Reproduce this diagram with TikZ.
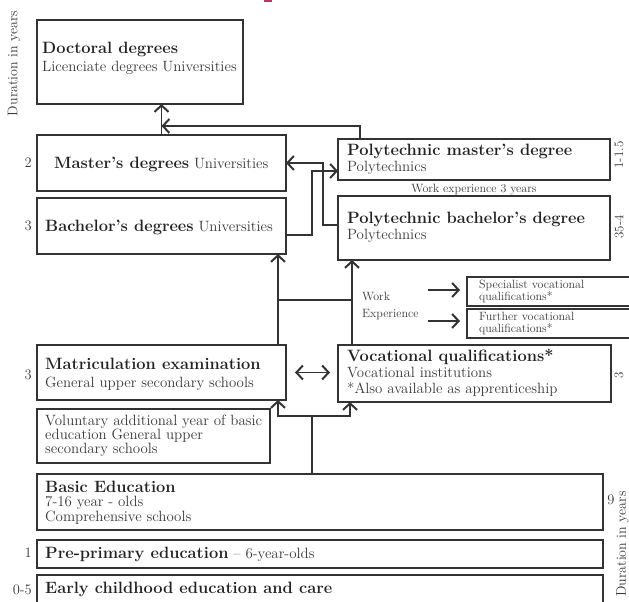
\documentclass[tikz,border=0pt]{standalone}
\usetikzlibrary{arrows.meta}
\definecolor{lc}{HTML}{333333}
\definecolor{tb}{HTML}{222222}
\definecolor{tn}{HTML}{383838}
\definecolor{mg}{HTML}{C0306A}
\newcommand\mybold[1]{{\color{tb}\fontsize{16.4}{18}\selectfont\bfseries #1}}
\begin{document}
\begin{tikzpicture}[x=1pt,y=-1pt,
  box/.style={draw=lc, line width=1.2pt, rectangle, inner sep=0pt, outer sep=0pt, anchor=north west},
  ln/.style={draw=lc, line width=1.3pt},
  tip/.tip={Straight Barb[length=6.5pt,width=14pt,line width=2pt]},
  arr/.style={ln, -tip},
  arrb/.style={ln, tip-tip},
  tb/.style={anchor=base west, inner sep=0pt, text=tb, font=\fontsize{16.4}{18}\selectfont\bfseries},
  tn/.style={anchor=base west, inner sep=0pt, text=tn, font=\fontsize{14.9}{16}\selectfont},
  ts/.style={anchor=base west, inner sep=0pt, text=tn, font=\fontsize{12}{13}\selectfont},
  num/.style={inner sep=0pt, text=tn, font=\fontsize{14.5}{16}\selectfont},
  rnum/.style={inner sep=0pt, text=tn, rotate=90, font=\fontsize{13}{14}\selectfont},
  dur/.style={inner sep=0pt, text=tn, rotate=90, font=\fontsize{14}{16}\selectfont}]
\useasboundingbox (0,0) rectangle (629,602);
\fill[mg] (264,0) rectangle (272,2);

% boxes
\node[box, minimum width=206pt, minimum height=84pt] (doc) at (37,20) {};
\node[box, minimum width=249pt, minimum height=56pt] (mast) at (37,135) {};
\node[box, minimum width=249pt, minimum height=56pt] (bach) at (37,198) {};
\node[box, minimum width=272pt, minimum height=41pt] (pmast) at (338,139) {};
\node[box, minimum width=272pt, minimum height=64pt] (pbach) at (338,196) {};
\node[box, minimum width=180pt, minimum height=29pt] (spec) at (467,277) {};
\node[box, minimum width=180pt, minimum height=29pt] (furt) at (467,309) {};
\node[box, minimum width=249pt, minimum height=55pt] (matr) at (37,345) {};
\node[box, minimum width=273pt, minimum height=57pt] (voc) at (338,345) {};
\node[box, minimum width=233pt, minimum height=54pt] (vol) at (37,409) {};
\node[box, minimum width=566pt, minimum height=56pt] (basic) at (37,474) {};
\node[box, minimum width=566pt, minimum height=28pt] (pre) at (37,540) {};
\node[box, minimum width=566pt, minimum height=45pt] (early) at (37,575) {};

% texts in boxes
\node[tb] (t1) at (42,54) {Doctoral degrees};
\node[tn] (t2) at (42,72) {Licenciate degrees Universities};
\node[tn] (t3) at (54,168) {\mybold{Master's degrees} Universities};
\node[tn] (t4) at (45,231) {\mybold{Bachelor's degrees} Universities};
\node[tb] (t5) at (347,155) {Polytechnic master's degree};
\node[tn] (t6) at (347,171) {Polytechnics};
\node[tb] (t7) at (347,223) {Polytechnic bachelor's degree};
\node[tn] (t8) at (347,239) {Polytechnics};
\node[ts, anchor=base] (t9) at (474,192) {Work experience 3 years};
\node[ts] (t10) at (479,288) {Specialist vocational};
\node[ts] (t11) at (479,300) {qualifications*};
\node[ts] (t12) at (479,320) {Further vocational};
\node[ts] (t13) at (479,332) {qualifications*};
\node[ts] (t14) at (362,300) {Work};
\node[ts] (t15) at (362,317) {Experience};
\node[tb] (t16) at (45,369) {Matriculation examination};
\node[tn] (t17) at (45,387) {General upper secondary schools};
\node[tb] (t18) at (347,361) {Vocational qualifications*};
\node[tn] (t19) at (347,377) {Vocational institutions};
\node[tn] (t20) at (347,393) {*Also available as apprenticeship};
\node[tn] (t21) at (45,425) {Voluntary additional year of basic};
\node[tn] (t22) at (45,439) {education General upper};
\node[tn] (t23) at (45,453) {secondary schools};
\node[tb] (t24) at (45,492) {Basic Education};
\node[tn] (t25) at (45,506) {7-16 year - olds};
\node[tn] (t26) at (45,521) {Comprehensive schools};
\node[tn] (t27) at (45,558) {\mybold{Pre-primary education} -- 6-year-olds};
\node[tb] (t28) at (45,593) {Early childhood education and care};

% side labels
\node[dur] (d1) at (14,63.5) {Duration in years};
\node[dur] (d2) at (622.5,544) {Duration in years};
\node[num, anchor=east] (n1) at (32,163) {2};
\node[num, anchor=east] (n2) at (32,226) {3};
\node[num, anchor=east] (n3) at (32,375) {3};
\node[num, anchor=east] (n4) at (32,553) {1};
\node[num, anchor=east] (n5) at (32,590) {0-5};
\node[num] (n6) at (611,500) {9};
\node[rnum] (r1) at (619,155) {1-1.5};
\node[rnum] (r2) at (619,227) {35-4};
\node[rnum] (r3) at (619,375) {3};

% connectors
\draw[arr] (mast.north) -- (mast.north |- doc.south);
\draw[arr] ([xshift=22pt]pmast.north west) |- ([yshift=9pt]mast.north);
\draw[arr] ([yshift=3pt]pbach.west) -| ([xshift=37pt]mast.east) -- (mast.east);
\draw[arr] ([yshift=-9pt]bach.east) -- ++(26pt,0) |- ([yshift=-11.5pt]pmast.west);
\draw[arr] ([xshift=-8pt]matr.north east) -- ([xshift=-8pt]bach.south east);
\draw[arr] ([xshift=14pt]voc.north west) -- ([xshift=14pt]pbach.south west);
\draw[ln] ([xshift=-8pt,yshift=45pt]matr.north east) -- ([xshift=14pt,yshift=45pt]voc.north west);
\draw[arrb] ([xshift=-8pt]matr.south east) |- ([xshift=12pt,yshift=-14pt]voc.south west) -- ([xshift=12pt]voc.south west);
\coordinate (jn) at (312,416);
\draw[ln] (jn) -- (jn |- basic.north);
\draw[arrb] ([xshift=9pt]matr.east) -- ([xshift=-8pt]matr.east -| voc.west);
\draw[arr] ([xshift=-39pt,yshift=1.5pt]spec.west) -- ([xshift=-7pt,yshift=1.5pt]spec.west);
\draw[arr] ([xshift=-39pt,yshift=2.5pt]furt.west) -- ([xshift=-7pt,yshift=2.5pt]furt.west);
\end{tikzpicture}
\end{document}
